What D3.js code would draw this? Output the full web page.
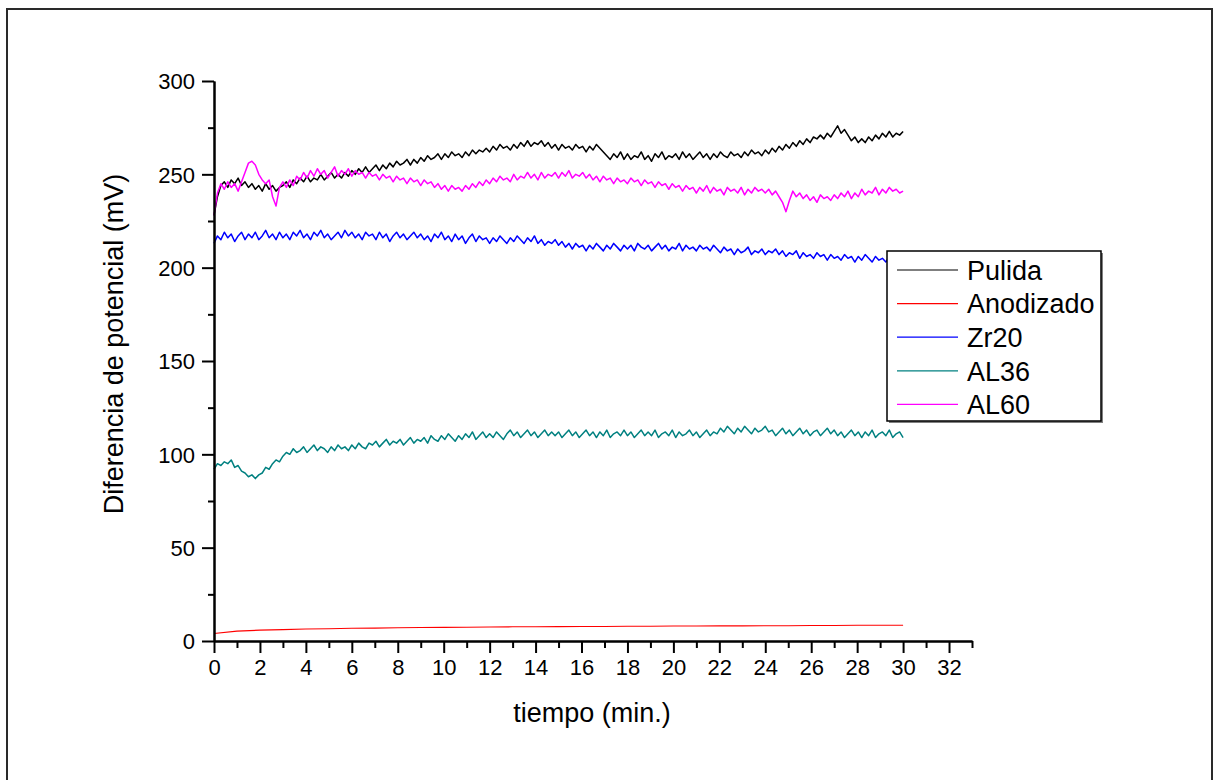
<!DOCTYPE html>
<html>
<head>
<meta charset="utf-8">
<script src="https://cdn.jsdelivr.net/npm/d3@7"></script>
<style>
  body { margin: 0; background: #fff; }
  svg { display: block; font-family: "Liberation Sans", Arial, Helvetica, sans-serif; }
</style>
</head>
<body>
<svg id="chart" width="1214" height="780"></svg>
<script>
// ---- data -------------------------------------------------------------
const xMajorTicks = [0, 2, 4, 6, 8, 10, 12, 14, 16, 18, 20, 22, 24, 26, 28, 30, 32];
const xMinorTicks = [1, 3, 5, 7, 9, 11, 13, 15, 17, 19, 21, 23, 25, 27, 29, 31, 33];
const yMajorTicks = [0, 50, 100, 150, 200, 250, 300];
const yMinorTicks = [25, 75, 125, 175, 225, 275];

const seriesNames  = ["Pulida", "Anodizado", "Zr20", "AL36", "AL60"];
const seriesColors = ["#000000", "#ff0000", "#0000ff", "#008080", "#ff00ff"];

// noisy records are sampled every 0.15 min, the anodized one every minute
const noisyStep = 0.15;
const smoothStep = 1;

const pulida = [
  228,238,244,246,243,247,245,248,244,246, 243,245,242,244,241,245,242,244,241,243,
  244,246,243,247,245,248,246,249,246,248, 247,250,247,249,251,248,250,248,251,249,
  252,250,253,251,254,251,253,255,252,255, 253,256,254,257,255,256,258,255,258,256,
  259,257,260,258,259,261,258,261,259,262, 260,261,259,262,260,263,261,263,262,264,
  262,265,263,266,264,265,263,266,264,267, 265,268,265,267,266,268,265,267,264,266,
  263,266,264,265,263,266,264,265,262,265, 263,266,264,262,260,258,261,259,262,258,
  261,258,260,259,262,258,260,257,261,259, 262,258,260,259,261,258,262,259,261,258,
  260,262,259,261,258,261,259,262,260,259, 262,260,261,259,262,260,263,261,262,260,
  263,261,264,262,265,263,266,264,267,265, 268,266,269,267,270,269,271,269,272,270,
  273,276,272,274,271,268,270,267,269,267, 270,268,271,269,272,270,273,270,272,271,
  273
];

const anodizado = [
  4.0,5.3,5.8,6.1,6.4,6.6,6.8,6.9,7.1,7.2,
  7.3,7.4,7.5,7.6,7.6,7.7,7.8,7.8,7.9,7.9,
  8.0,8.0,8.1,8.1,8.2,8.2,8.3,8.3,8.4,8.4,
  8.4
];

const zr20 = [
  213,217,215,219,216,218,214,217,219,215, 218,216,219,215,217,220,216,218,215,219,
  216,218,215,219,217,220,216,218,215,219, 217,220,216,218,215,217,219,216,220,217,
  219,216,218,215,219,217,218,215,219,216, 218,214,217,219,216,218,215,217,219,216,
  218,215,217,214,218,216,219,215,217,214, 218,215,217,213,216,218,214,217,215,216,
  213,216,214,217,215,213,216,214,217,215, 213,216,214,217,213,215,212,214,213,215,
  212,214,211,213,210,213,211,212,209,212, 210,213,211,209,212,210,213,211,209,212,
  210,212,209,213,211,210,212,209,211,213, 210,212,209,211,210,213,209,212,210,211,
  209,212,210,211,209,212,210,208,211,209, 210,207,210,208,209,211,207,209,208,210,
  207,209,208,210,207,209,206,208,207,209, 205,208,206,207,205,208,206,207,204,207,
  205,206,204,207,205,206,203,206,204,207, 205,203,206,204,205,203,206,204,202,205,
  203
];

const al36 = [
  92,95,94,96,95,97,93,94,91,90, 88,89,87,89,90,93,92,95,97,96,
  99,101,100,103,101,102,104,101,103,105, 102,104,103,101,104,102,105,103,104,102,
  105,103,106,104,103,106,105,107,104,106, 108,105,107,106,108,105,107,109,106,108,
  107,109,106,110,108,107,110,108,111,109, 107,110,108,111,109,112,108,110,112,109,
  111,109,112,110,108,111,113,110,112,109, 111,113,110,112,109,111,113,110,112,110,
  112,109,111,113,110,112,109,111,113,110, 112,109,112,110,113,109,111,112,110,113,
  110,112,109,111,113,110,112,110,113,109, 111,112,110,113,109,112,110,111,113,110,
  112,109,111,113,110,112,111,114,112,115, 113,111,114,112,115,113,111,114,112,113,
  115,112,113,110,112,114,111,113,110,112, 114,111,113,110,112,113,110,112,114,111,
  113,110,112,109,111,113,110,112,109,112, 110,113,109,111,112,110,113,109,111,112,
  109
];

const al60 = [
  228,240,245,242,246,243,245,241,246,251, 256,257,255,250,247,245,247,238,233,243,
  246,243,247,244,249,247,251,248,252,249, 253,250,252,248,251,254,249,252,250,253,
  249,252,250,251,248,251,249,250,247,250, 248,249,246,249,247,248,245,248,246,247,
  244,247,245,246,243,245,242,244,241,244, 242,243,241,244,242,245,243,246,244,247,
  245,248,246,249,247,248,246,250,247,249, 248,251,248,250,247,251,248,250,249,251,
  248,251,249,252,248,250,249,251,248,250, 247,249,246,249,247,248,245,248,246,247,
  245,248,246,247,244,247,245,246,243,246, 244,245,242,245,243,244,241,244,242,243,
  240,243,241,244,240,243,241,242,239,243, 241,242,240,243,239,242,240,243,241,242,
  240,242,239,241,238,235,230,236,241,238, 240,237,239,236,238,235,239,237,238,236,
  239,237,240,238,241,237,240,238,242,239, 241,240,243,239,242,240,243,241,242,240,
  241
];

const seriesValues = [pulida, anodizado, zr20, al36, al60];
const seriesSteps  = [noisyStep, smoothStep, noisyStep, noisyStep, noisyStep];
const seriesWidths = [1.5, 1.1, 1.5, 1.5, 1.5];

// ---- layout -----------------------------------------------------------
const svg = d3.select("#chart");
const x = d3.scaleLinear().domain([0, 33]).range([214, 972]);
const y = d3.scaleLinear().domain([0, 300]).range([641, 81]);

// outer frame
svg.append("rect")
  .attr("x", 7).attr("y", 9).attr("width", 1205).attr("height", 800)
  .attr("fill", "none").attr("stroke", "#2a2a2a").attr("stroke-width", 2);

// ---- data lines -------------------------------------------------------
const plot = svg.append("g");
seriesValues.forEach((vals, k) => {
  const line = d3.line()
    .x((d, i) => x(i * seriesSteps[k]))
    .y(d => y(d));
  plot.append("path")
    .datum(vals)
    .attr("fill", "none")
    .attr("stroke", seriesColors[k])
    .attr("stroke-width", seriesWidths[k])
    .attr("stroke-linejoin", "round")
    .attr("d", line);
});

// ---- axes -------------------------------------------------------------
function styleAxis(g) {
  g.selectAll("path.domain").attr("stroke", "#000").attr("stroke-width", 2);
  g.selectAll(".tick line").attr("stroke", "#000").attr("stroke-width", 2);
  g.selectAll(".tick text").attr("fill", "#000").attr("font-size", 22)
    .attr("font-family", '"Liberation Sans", Arial, sans-serif');
}

const xAxisMinor = svg.append("g")
  .attr("transform", "translate(0,641)")
  .call(d3.axisBottom(x).tickValues(xMinorTicks).tickSize(7).tickSizeOuter(0).tickFormat(""));
styleAxis(xAxisMinor);

const xAxis = svg.append("g")
  .attr("transform", "translate(0,641)")
  .call(d3.axisBottom(x).tickValues(xMajorTicks).tickSize(12).tickSizeOuter(0).tickPadding(6));
styleAxis(xAxis);

const yAxisMinor = svg.append("g")
  .attr("transform", "translate(214,0)")
  .call(d3.axisLeft(y).tickValues(yMinorTicks).tickSize(6).tickSizeOuter(0).tickFormat(""));
styleAxis(yAxisMinor);

const yAxis = svg.append("g")
  .attr("transform", "translate(214,0)")
  .call(d3.axisLeft(y).tickValues(yMajorTicks).tickSize(12).tickSizeOuter(0).tickPadding(7));
styleAxis(yAxis);
yAxis.selectAll(".tick text").attr("dy", "0.36em");

// axis titles
svg.append("text")
  .attr("x", 592).attr("y", 722)
  .attr("text-anchor", "middle")
  .attr("font-size", 27)
  .text("tiempo (min.)");

svg.append("text")
  .attr("transform", "translate(123,344) rotate(-90)")
  .attr("text-anchor", "middle")
  .attr("font-size", 27)
  .text("Diferencia de potencial (mV)");

// ---- legend -----------------------------------------------------------
const legend = svg.append("g");
legend.append("rect")
  .attr("x", 889).attr("y", 253).attr("width", 214).attr("height", 170)
  .attr("fill", "#808080");
legend.append("rect")
  .attr("x", 887).attr("y", 251).attr("width", 214).attr("height", 170)
  .attr("fill", "#fff").attr("stroke", "#000").attr("stroke-width", 1.5);

seriesNames.forEach((name, k) => {
  const cy = 270 + k * 33.6;
  legend.append("line")
    .attr("x1", 897).attr("x2", 958).attr("y1", cy).attr("y2", cy)
    .attr("stroke", seriesColors[k]).attr("stroke-width", 1.2);
  legend.append("text")
    .attr("x", 967).attr("y", cy + 9.7)
    .attr("font-size", 27)
    .text(name);
});
</script>
</body>
</html>
